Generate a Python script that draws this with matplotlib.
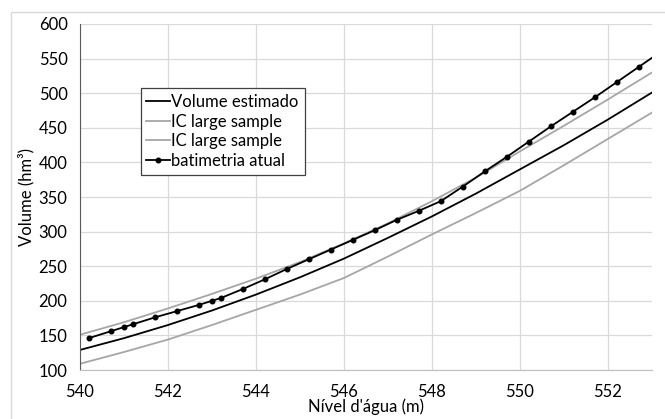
import matplotlib
matplotlib.use("Agg")
import matplotlib.pyplot as plt
from matplotlib.patches import Rectangle

plt.rcParams["font.family"] = ["Lato", "DejaVu Sans"]

# Curvas ajustadas
nivel = [540, 541, 542, 543, 544, 545, 546, 547, 548, 549, 550, 551, 552, 553]
volume_estimado = [129, 146, 165, 186, 209, 234, 261, 291, 322, 355, 390, 425, 462, 501]
ic_superior = [151, 169, 189, 210, 232, 256, 283, 312, 344, 378, 416, 453, 491, 530]
ic_inferior = [109, 126, 144, 165, 187, 209, 233, 264, 296, 327, 359, 396, 434, 472]

# Batimetria atual
nivel_bat = [540.2, 540.7, 541.0, 541.2, 541.7, 542.2, 542.7, 543.0, 543.2, 543.7,
             544.2, 544.7, 545.2, 545.7, 546.2, 546.7, 547.2, 547.7, 548.2, 548.7,
             549.2, 549.7, 550.2, 550.7, 551.2, 551.7, 552.2, 552.7, 553.2]
volume_bat = [146, 156, 162, 166, 176, 185, 194, 200, 204, 217,
              231, 246, 260, 274, 288, 302, 317, 330, 344, 365,
              387, 408, 430, 452, 473, 494, 516, 538, 560]

fig = plt.figure(figsize=(6.65, 4.19), dpi=100)
fig.patches.append(Rectangle((11 / 665, -0.1), 1.2, 1 - 12 / 419 + 0.1,
                             transform=fig.transFigure, fill=False,
                             edgecolor="#d9d9d9", linewidth=1.0))
ax = fig.add_axes([80 / 665, 1 - 370 / 419, 572 / 665, 346 / 419])

ax.plot(nivel, volume_estimado, color="black", linewidth=1.3, label="Volume estimado")
ax.plot(nivel, ic_superior, color="#a6a6a6", linewidth=1.3, label="IC large sample")
ax.plot(nivel, ic_inferior, color="#a6a6a6", linewidth=1.3, label="IC large sample")
ax.plot(nivel_bat, volume_bat, color="black", linewidth=1.3, marker="o",
        markersize=3.3, label="batimetria atual")

ax.set_xlim(540, 553)
ax.set_ylim(100, 600)
ax.set_xticks(range(540, 553, 2))
ax.set_yticks(range(100, 601, 50))
ax.grid(color="#d9d9d9", linewidth=0.9)
ax.set_axisbelow(True)
ax.tick_params(length=0, labelsize=12)
ax.tick_params(axis="y", pad=9)
ax.tick_params(axis="x", pad=10)
for side in ("top", "right"):
    ax.spines[side].set_visible(False)
ax.spines["left"].set_color("#595959")
ax.spines["bottom"].set_color("#bfbfbf")

ax.set_xlabel("Nível d'água (m)", fontsize=12, labelpad=-1)
ax.set_ylabel("Volume (hm³)", fontsize=12, labelpad=3)

leg = ax.legend(loc="upper left", bbox_to_anchor=(0.106, 0.815), fontsize=12,
                fancybox=False, edgecolor="#404040", framealpha=1,
                handlelength=1.4, handletextpad=0.1, labelspacing=0.22,
                borderpad=0.35, borderaxespad=0)
leg.get_frame().set_linewidth(0.9)

fig.savefig("out.png", dpi=100, facecolor="white")
